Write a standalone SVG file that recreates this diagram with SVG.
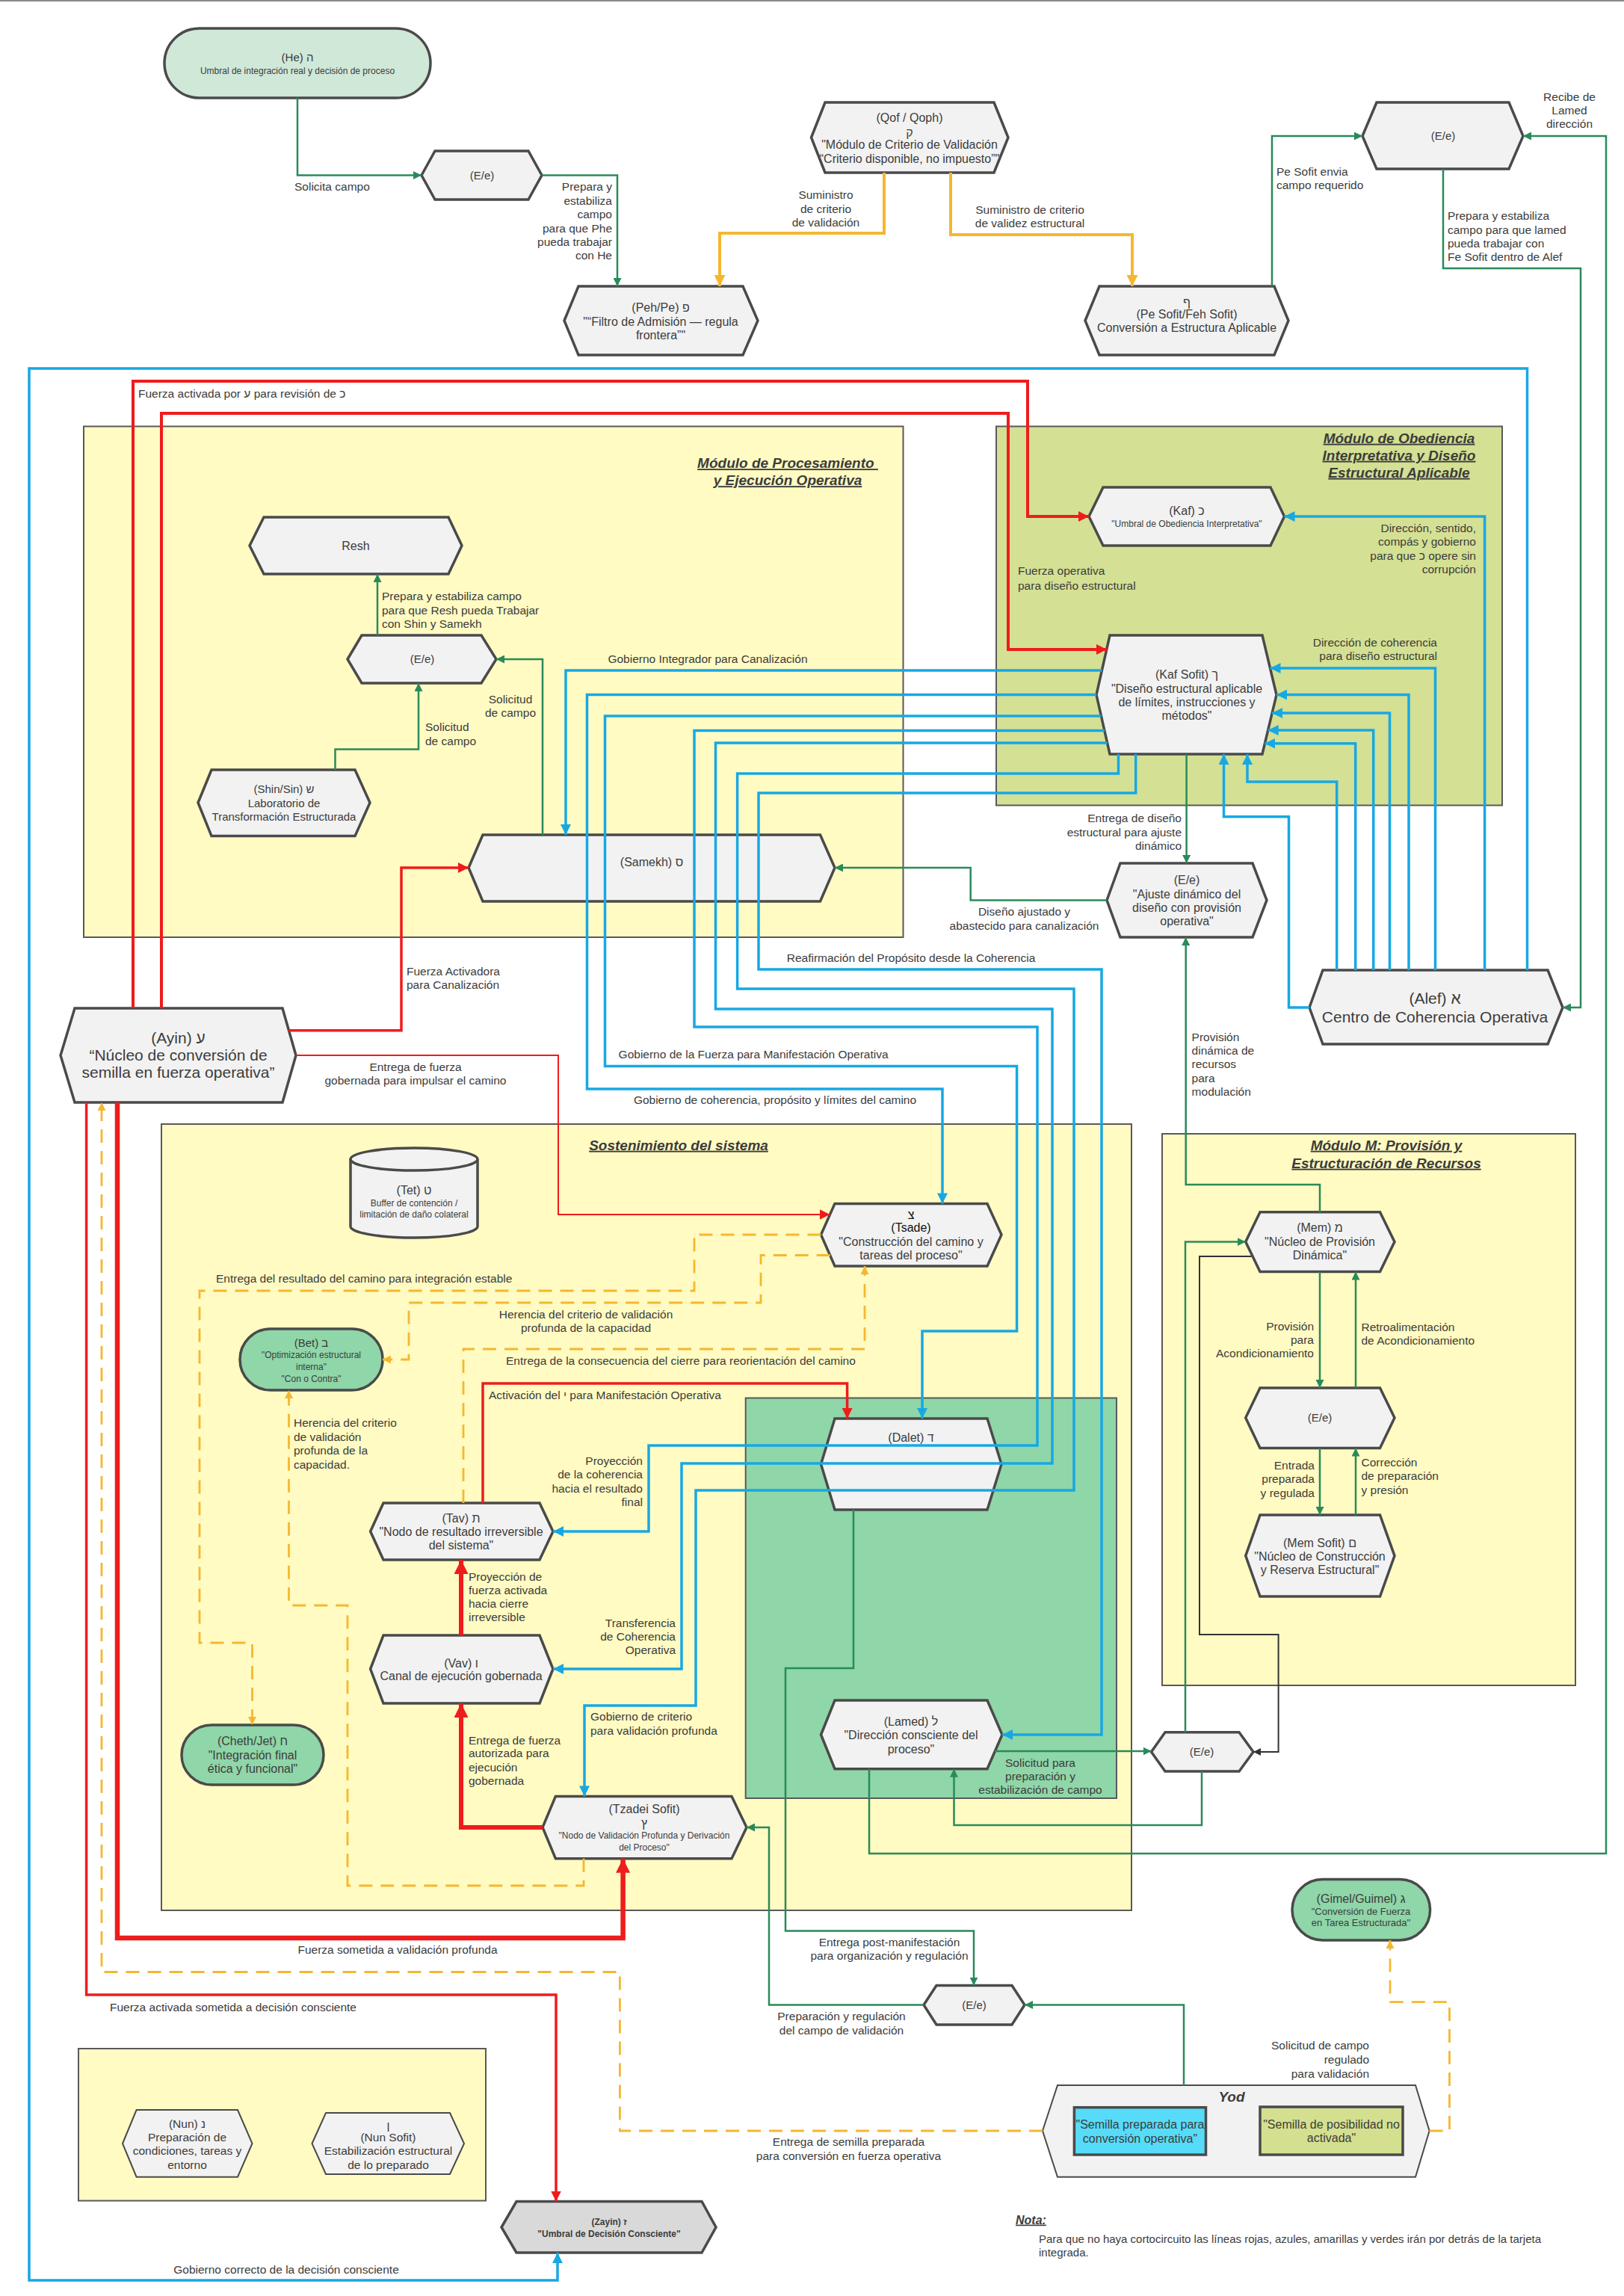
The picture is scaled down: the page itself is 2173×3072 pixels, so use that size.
<svg xmlns="http://www.w3.org/2000/svg" width="2173" height="3072" viewBox="0 0 2173 3072">
<defs>
<style>
.t{font-family:"Liberation Sans","DejaVu Sans",sans-serif;fill:#3c3c3c}
.l{font-size:15.5px}
.m{font-size:16px}
.f15{font-size:15px}
.s{font-size:12px}
.s13{font-size:13px}
.b{font-size:21px}
.tt{font-size:19px;font-weight:bold;font-style:italic;text-decoration:underline}
.c{text-anchor:middle}
.e{text-anchor:end}
.hex{fill:#f2f2f2;stroke:#4a4a4a;stroke-width:3.5}
.hexthin{fill:#f2f2f2;stroke:#4a4a4a;stroke-width:2}
.mod{stroke:#595959;stroke-width:2}
.yel{fill:#fffbc2}
.g{fill:none;stroke:#2a8a5a;stroke-width:2.5}
.k{fill:none;stroke:#333;stroke-width:2}
.bl{fill:none;stroke:#17a8e3;stroke-width:3.5}
.r{fill:none;stroke:#ee1c1c}
.o{fill:none;stroke:#f5b731;stroke-width:2.8;stroke-dasharray:18 11}
.os{fill:none;stroke:#f5b731;stroke-width:4}
</style>
<marker id="ag" viewBox="0 0 10 10" refX="10" refY="5" markerWidth="11" markerHeight="11" markerUnits="userSpaceOnUse" orient="auto"><path d="M0,0L10,5L0,10z" fill="#2a8a5a"/></marker>
<marker id="ab" viewBox="0 0 10 10" refX="10" refY="5" markerWidth="14" markerHeight="14" markerUnits="userSpaceOnUse" orient="auto"><path d="M0,0L10,5L0,10z" fill="#17a8e3"/></marker>
<marker id="ar" viewBox="0 0 10 10" refX="10" refY="5" markerWidth="14" markerHeight="14" markerUnits="userSpaceOnUse" orient="auto"><path d="M0,0L10,5L0,10z" fill="#ee1c1c"/></marker>
<marker id="arb" viewBox="0 0 10 10" refX="10" refY="5" markerWidth="19" markerHeight="19" markerUnits="userSpaceOnUse" orient="auto"><path d="M0,0L10,5L0,10z" fill="#ee1c1c"/></marker>
<marker id="ao" viewBox="0 0 10 10" refX="10" refY="5" markerWidth="11" markerHeight="11" markerUnits="userSpaceOnUse" orient="auto"><path d="M0,0L10,5L0,10z" fill="#f5b731"/></marker>
<marker id="aos" viewBox="0 0 10 10" refX="10" refY="5" markerWidth="15" markerHeight="15" markerUnits="userSpaceOnUse" orient="auto"><path d="M0,0L10,5L0,10z" fill="#f5b731"/></marker>
<marker id="ak" viewBox="0 0 10 10" refX="10" refY="5" markerWidth="10" markerHeight="10" markerUnits="userSpaceOnUse" orient="auto"><path d="M0,0L10,5L0,10z" fill="#333"/></marker>
</defs>
<rect width="2173" height="3072" fill="#ffffff"/>
<line x1="0" y1="1" x2="2173" y2="1" stroke="#8a8a8a" stroke-width="2"/>

<g id="modules">
<rect class="mod yel" x="112" y="570.5" width="1096.5" height="683.5"/>
<text class="t tt c"><tspan x="1054" y="626.2">Módulo de Procesamiento </tspan><tspan x="1054" y="649.2">y Ejecución Operativa</tspan></text>
<rect class="mod" fill="#d4e093" x="1333" y="570.5" width="677" height="507"/>
<text class="t tt c"><tspan x="1872" y="592.7">Módulo de Obediencia</tspan><tspan x="1872" y="615.7">Interpretativa y Diseño</tspan><tspan x="1872" y="638.7">Estructural Aplicable</tspan></text>
<rect class="mod yel" x="216" y="1504" width="1298" height="1052"/>
<text class="t tt c" x="908" y="1538.7">Sostenimiento del sistema</text>
<rect class="mod" fill="#8fd6a8" x="997.7" y="1870.5" width="496.3" height="535.5"/>
<rect class="mod yel" x="1555" y="1517" width="553" height="738"/>
<text class="t tt c"><tspan x="1855" y="1538.7">Módulo M: Provisión y</tspan><tspan x="1855" y="1562.7">Estructuración de Recursos</tspan></text>
<rect class="mod yel" x="105" y="2741" width="545" height="203.5"/>
</g>

<g id="nodes">
<g id="n-he"><rect x="220" y="38" width="356" height="93" rx="46.5" fill="#cfe8d8" stroke="#4a4a4a" stroke-width="3.5"/>
<text class="t c"><tspan class="f15" x="398" y="82.3">(He) ה</tspan><tspan class="s" x="398" y="98.7">Umbral de integración real y decisión de proceso</tspan></text></g>
<g id="n-ee1"><polygon class="hex" points="564,234.5 582,202 707,202 725,234.5 707,267 582,267"/><text class="t f15 c" x="645" y="239.8">(E/e)</text></g>
<g id="n-qof"><polygon class="hex" points="1085.5,184 1104,137 1330,137 1349,184 1330,231 1104,231"/>
<text class="t m c"><tspan x="1217" y="162.6">(Qof / Qoph)</tspan><tspan x="1217" y="182.6">ק</tspan><tspan x="1217" y="198.6">"Módulo de Criterio de Validación</tspan><tspan x="1217" y="217.6">“Criterio disponible, no impuesto”"</tspan></text></g>
<g id="n-peh"><polygon class="hex" points="755,429 774,383 994,383 1014,429 994,475 774,475"/>
<text class="t m c"><tspan x="884" y="416.6">(Peh/Pe) פ</tspan><tspan x="884" y="435.6">"“Filtro de Admisión — regula</tspan><tspan x="884" y="453.6">frontera”"</tspan></text></g>
<g id="n-pesofit"><polygon class="hex" points="1452,429 1471,383 1705,383 1724,429 1705,475 1471,475"/>
<text class="t m c"><tspan x="1588" y="409.6">ף</tspan><tspan x="1588" y="425.6">(Pe Sofit/Feh Sofit)</tspan><tspan x="1588" y="443.6">Conversión a Estructura Aplicable</tspan></text></g>
<g id="n-ee2"><polygon class="hex" points="1823,182 1842,137 2019,137 2038,182 2019,226 1842,226"/><text class="t f15 c" x="1931" y="187.3">(E/e)</text></g>
<g id="n-resh"><polygon class="hex" points="334,730 353,692 600,692 618,730 600,768 353,768"/><text class="t m c" x="476" y="735.6">Resh</text></g>
<g id="n-kaf"><polygon class="hex" points="1457,691 1476,652 1700,652 1718.5,691 1700,730 1476,730"/>
<text class="t c"><tspan class="m" x="1588" y="688.6">(Kaf) כ</tspan><tspan class="s" x="1588" y="705.2">"Umbral de Obediencia Interpretativa"</tspan></text></g>
<g id="n-ee3"><polygon class="hex" points="465,882 484,850 644,850 664,882 644,914 484,914"/><text class="t f15 c" x="565" y="887.3">(E/e)</text></g>
<g id="n-shin"><polygon class="hex" points="265,1074 283,1030 475,1030 495,1074 475,1118.6 283,1118.6"/>
<text class="t f15 c"><tspan x="380" y="1061.3">(Shin/Sin) ש</tspan><tspan x="380" y="1079.9">Laboratorio de</tspan><tspan x="380" y="1098">Transformación Estructurada</tspan></text></g>
<g id="n-samekh"><polygon class="hex" points="627,1161 646,1117 1097.5,1117 1117,1161 1097.5,1206 646,1206"/><text class="t m c" x="872" y="1158.6">(Samekh) ס</text></g>
<g id="n-kafsofit"><polygon class="hex" points="1467,929.6 1485,850 1689,850 1708,929.6 1689,1009 1485,1009"/>
<text class="t m c"><tspan x="1588" y="908.3">(Kaf Sofit) ך</tspan><tspan x="1588" y="926.6">"Diseño estructural aplicable</tspan><tspan x="1588" y="944.6">de límites, instrucciones y</tspan><tspan x="1588" y="963.1">métodos"</tspan></text></g>
<g id="n-ee4"><polygon class="hex" points="1481,1204.5 1499,1155 1676,1155 1695,1204.5 1676,1254 1499,1254"/>
<text class="t m c"><tspan x="1588" y="1182.6">(E/e)</tspan><tspan x="1588" y="1201.6">"Ajuste dinámico del</tspan><tspan x="1588" y="1219.6">diseño con provisión</tspan><tspan x="1588" y="1238.3">operativa"</tspan></text></g>
<g id="n-ayin"><polygon class="hex" points="81,1412 100,1349 378,1349 396,1412 378,1475 100,1475"/>
<text class="t b c"><tspan x="238.5" y="1395.9">(Ayin) ע</tspan><tspan x="238.5" y="1419.4">“Núcleo de conversión de</tspan><tspan x="238.5" y="1442.4">semilla en fuerza operativa”</tspan></text></g>
<g id="n-alef"><polygon class="hex" points="1752,1348 1770,1298 2071,1298 2091,1348 2071,1397 1770,1397"/>
<text class="t b c"><tspan x="1920" y="1343.4">(Alef) א</tspan><tspan x="1920" y="1367.9">Centro de Coherencia Operativa</tspan></text></g>
<g id="n-tet"><path d="M469,1551 A85,15 0 0 1 639,1551 V1641 A85,15 0 0 1 469,1641 Z" fill="#f2f2f2" stroke="#4a4a4a" stroke-width="3.5"/><path d="M469,1551 A85,15 0 0 0 639,1551" fill="none" stroke="#4a4a4a" stroke-width="3.5"/>
<text class="t c"><tspan class="m" x="554" y="1597.6">(Tet) ט</tspan><tspan class="s" x="554" y="1613.7">Buffer de contención /</tspan><tspan class="s" x="554" y="1629.2">limitación de daño colateral</tspan></text></g>
<g id="n-tsade"><polygon class="hex" points="1098.5,1652 1117,1610.4 1321,1610.4 1340,1652 1321,1694 1117,1694"/>
<text class="t m c"><tspan x="1219" y="1631.2" fill="#111">צ</tspan><tspan x="1219" y="1648.4" fill="#111">(Tsade)</tspan><tspan x="1219" y="1666.6">"Construcción del camino y</tspan><tspan x="1219" y="1685.1">tareas del proceso"</tspan></text></g>
<g id="n-mem"><polygon class="hex" points="1666.7,1661.6 1686,1621.7 1846.5,1621.7 1866,1661.6 1846.5,1701.5 1686,1701.5"/>
<text class="t m c"><tspan x="1766" y="1648.4">(Mem) מ</tspan><tspan x="1766" y="1666.6">"Núcleo de Provisión</tspan><tspan x="1766" y="1685.2">Dinámica"</tspan></text></g>
<g id="n-bet"><rect x="321" y="1778" width="191" height="82" rx="41" fill="#8fd6a8" stroke="#4a4a4a" stroke-width="3.5"/>
<text class="t c"><tspan class="f15" x="416.5" y="1801.8">(Bet) ב</tspan><tspan class="s" x="416.5" y="1817.2">"Optimización estructural</tspan><tspan class="s" x="416.5" y="1833.2">interna"</tspan><tspan class="s" x="416.5" y="1848.7">"Con o Contra"</tspan></text></g>
<g id="n-ee7"><polygon class="hex" points="1666.7,1897 1686,1857 1846.5,1857 1866,1897 1846.5,1937.6 1686,1937.6"/><text class="t f15 c" x="1766" y="1902.3">(E/e)</text></g>
<g id="n-dalet"><polygon class="hex" points="1098.5,1959 1117,1898 1321,1898 1340,1959 1321,2020 1117,2020"/><text class="t m c" x="1219" y="1928.6">(Dalet) ד</text></g>
<g id="n-tav"><polygon class="hex" points="495.6,2049 513,2011 722,2011 740,2049 722,2087 513,2087"/>
<text class="t m c"><tspan x="617" y="2036.6">(Tav) ת</tspan><tspan x="617" y="2054.6">"Nodo de resultado irreversible</tspan><tspan x="617" y="2072.6">del sistema"</tspan></text></g>
<g id="n-memsofit"><polygon class="hex" points="1666.7,2081.6 1686,2027 1846.5,2027 1866,2081.6 1846.5,2136 1686,2136"/>
<text class="t m c"><tspan x="1766" y="2069.6">(Mem Sofit) ם</tspan><tspan x="1766" y="2087.6">"Núcleo de Construcción</tspan><tspan x="1766" y="2105.6">y Reserva Estructural"</tspan></text></g>
<g id="n-vav"><polygon class="hex" points="495.6,2233 513,2188 722,2188 740,2233 722,2279 513,2279"/>
<text class="t m c"><tspan x="617" y="2230.6">(Vav) ו</tspan><tspan x="617" y="2247.6">Canal de ejecución gobernada</tspan></text></g>
<g id="n-lamed"><polygon class="hex" points="1098.5,2321 1117,2275 1321,2275 1341,2321 1321,2366.7 1117,2366.7"/>
<text class="t m c"><tspan x="1219" y="2308.6">(Lamed) ל</tspan><tspan x="1219" y="2326.6">"Dirección consciente del</tspan><tspan x="1219" y="2345.6">proceso"</tspan></text></g>
<g id="n-ee6"><polygon class="hex" points="1540.5,2344 1559,2317.7 1658,2317.7 1677,2344 1658,2370 1559,2370"/><text class="t f15 c" x="1608" y="2349.3">(E/e)</text></g>
<g id="n-cheth"><rect x="243" y="2308" width="190" height="80" rx="40" fill="#8fd6a8" stroke="#4a4a4a" stroke-width="3.5"/>
<text class="t m c"><tspan x="338" y="2335.1">(Cheth/Jet) ח</tspan><tspan x="338" y="2353.6">"Integración final</tspan><tspan x="338" y="2371.6">ética y funcional"</tspan></text></g>
<g id="n-tzadeisofit"><polygon class="hex" points="726,2445 743.4,2403.4 979,2403.4 999,2445 979,2486.7 743.4,2486.7"/>
<text class="t c"><tspan class="m" x="862" y="2426.2">(Tzadei Sofit)</tspan><tspan class="m" x="862" y="2445.2">ץ</tspan><tspan class="s" x="862" y="2460.2">"Nodo de Validación Profunda y Derivación</tspan><tspan class="s" x="862" y="2476.2">del Proceso"</tspan></text></g>
<g id="n-gimel"><rect x="1729" y="2514.6" width="184.6" height="81.4" rx="40.7" fill="#8fd6a8" stroke="#4a4a4a" stroke-width="3.5"/>
<text class="t c"><tspan class="m" x="1821" y="2545.6">(Gimel/Guimel) ג</tspan><tspan class="s13" x="1821" y="2561.6">"Conversión de Fuerza</tspan><tspan class="s13" x="1821" y="2576.6">en Tarea Estructurada"</tspan></text></g>
<g id="n-ee5"><polygon class="hex" points="1236,2682.5 1253,2656.6 1354,2656.6 1371,2682.5 1354,2709 1253,2709"/><text class="t f15 c" x="1303.5" y="2687.8">(E/e)</text></g>
<g id="n-yod"><polygon class="hexthin" points="1395,2851 1415,2790 1894,2790 1912.6,2851 1894,2912.7 1415,2912.7"/>
<text class="t tt c" x="1648" y="2811.7" style="text-decoration:none">Yod</text>
<rect x="1437.4" y="2819.7" width="176.1" height="63.3" fill="#56dcf9" stroke="#4a4a4a" stroke-width="3.5"/>
<text class="t m c"><tspan x="1525.5" y="2848.3">"Semilla preparada para</tspan><tspan x="1525.5" y="2866.6">conversión operativa"</tspan></text>
<rect x="1686" y="2819" width="191" height="64" fill="#d4e08f" stroke="#4a4a4a" stroke-width="3.5"/>
<text class="t m c"><tspan x="1781.5" y="2847.6">"Semilla de posibilidad no</tspan><tspan x="1781.5" y="2865.6">activada"</tspan></text></g>
<g id="n-nun"><polygon class="hexthin" points="164,2868 182.6,2823 318,2823 337.5,2868 318,2912.7 182.6,2912.7"/>
<text class="t l c"><tspan x="250.5" y="2846.6">(Nun) נ</tspan><tspan x="250.5" y="2864.6">Preparación de</tspan><tspan x="250.5" y="2882.6">condiciones, tareas y</tspan><tspan x="250.5" y="2901.6">entorno</tspan></text></g>
<g id="n-nunsofit"><polygon class="hexthin" points="417.5,2868 436,2827 602,2827 621,2868 602,2909 436,2909"/>
<text class="t l c"><tspan x="519.5" y="2849.3">ן</tspan><tspan x="519.5" y="2864.6">(Nun Sofit)</tspan><tspan x="519.5" y="2882.6">Estabilización estructural</tspan><tspan x="519.5" y="2901.6">de lo preparado</tspan></text></g>
<g id="n-zayin"><polygon points="671,2980 691,2945.5 939,2945.5 958,2980 939,3014 691,3014" fill="#d9d9d9" stroke="#4a4a4a" stroke-width="3.5"/>
<text class="t s c" font-weight="bold"><tspan x="815" y="2977.2">(Zayin) ז</tspan><tspan x="815" y="2992.8">"Umbral de Decisión Consciente"</tspan></text></g>
</g>

<g id="connectors">
<!-- green -->
<path class="g" stroke-width="3" d="M398,131 V234.5 H564" marker-end="url(#ag)"/>
<path class="g" stroke-width="3" d="M725,234.5 H826 V383" marker-end="url(#ag)"/>
<path class="g" d="M1702,383 V182 H1823" marker-end="url(#ag)"/>
<path class="g" d="M1931,226 V359 H2115 V1348 H2091" marker-end="url(#ag)"/>
<path class="g" d="M1163,2366.7 V2480 H2149 V182 H2038" marker-end="url(#ag)"/>
<path class="g" d="M505,850 V768" marker-end="url(#ag)"/>
<path class="g" d="M726,1117 V882 H664" marker-end="url(#ag)"/>
<path class="g" d="M448.5,1030 V1002.6 H560 V914" marker-end="url(#ag)"/>
<path class="g" d="M1587.6,1009 V1155" marker-end="url(#ag)"/>
<path class="g" d="M1481,1204.5 H1298.7 V1161 H1117" marker-end="url(#ag)"/>
<path class="g" d="M1766,1621.7 V1585 H1586.7 V1254" marker-end="url(#ag)"/>
<path class="g" d="M1766,1701.5 V1857" marker-end="url(#ag)"/>
<path class="g" d="M1814,1857 V1701.5" marker-end="url(#ag)"/>
<path class="g" d="M1766,1937.6 V2027" marker-end="url(#ag)"/>
<path class="g" d="M1814,2027 V1937.6" marker-end="url(#ag)"/>
<path class="g" d="M1586,2317.7 V1661.6 H1666.7" marker-end="url(#ag)"/>
<path class="g" d="M1331,2343 H1540.5" marker-end="url(#ag)"/>
<path class="g" d="M1608,2370 V2442 H1276.5 V2366.7" marker-end="url(#ag)"/>
<path class="g" d="M1142,2020 V2232 H1051 V2583.6 H1303 V2656.6" marker-end="url(#ag)"/>
<path class="g" d="M1236,2682.5 H1029 V2445 H999" marker-end="url(#ag)"/>
<path class="g" d="M1584,2790 V2682.5 H1371" marker-end="url(#ag)"/>
<path class="k" d="M1674.5,1681 H1605 V2187 H1710.6 V2344 H1677" marker-end="url(#ak)"/>
<!-- orange solid -->
<path class="os" d="M1183,231 V312 H963 V383" marker-end="url(#aos)"/>
<path class="os" d="M1272,231 V314 H1515 V383" marker-end="url(#aos)"/>
<!-- orange dashed -->
<path class="o" d="M1098.5,1652 H929 V1727 H267 V2198 H337.5 V2308" marker-end="url(#ao)"/>
<path class="o" d="M1110.7,1679.5 H1018 V1743 H547 V1819 H512" marker-end="url(#ao)"/>
<path class="o" d="M620,2011 V1805 H1157 V1694" marker-end="url(#ao)"/>
<path class="o" d="M781,2486.7 V2523 H465 V2148 H386.5 V1860" marker-end="url(#ao)"/>
<path class="o" stroke-width="3" d="M1395,2851 H829.4 V2638.5 H136 V1475" marker-end="url(#ao)"/>
<path class="o" stroke-width="3" d="M1912.6,2851 H1939.5 V2678.6 H1860 V2596" marker-end="url(#ao)"/>
<!-- blue -->
<path class="bl" stroke-width="2" d="M1474.4,897 H757 V1117" marker-end="url(#ab)"/>
<path class="bl" d="M1467,929.6 H785.5 V1457 H1261 V1610.4" marker-end="url(#ab)"/>
<path class="bl" d="M1473.4,958 H809.5 V1426.6 H1360.6 V1781 H1234 V1898" marker-end="url(#ab)"/>
<path class="bl" d="M1477.9,977.6 H929 V1374 H1388 V1934 H868 V2049 H740" marker-end="url(#ab)"/>
<path class="bl" d="M1481.6,994 H957.5 V1350 H1408 V1958 H912 V2233 H740" marker-end="url(#ab)"/>
<path class="bl" d="M1496.5,1009 V1035 H986.6 V1323 H1437 V1994 H931 V2282 H782 V2403.4" marker-end="url(#ab)"/>
<path class="bl" d="M1519.7,1009 V1061 H1015 V1297 H1474 V2321 H1341" marker-end="url(#ab)"/>
<path class="bl" d="M1920.5,1298 V894 H1699.5" marker-end="url(#ab)"/>
<path class="bl" d="M1885,1298 V929.6 H1708" marker-end="url(#ab)"/>
<path class="bl" d="M1859.5,1298 V954 H1702" marker-end="url(#ab)"/>
<path class="bl" d="M1837.7,1298 V977 H1696.7" marker-end="url(#ab)"/>
<path class="bl" d="M1813.7,1298 V994.7 H1692.4" marker-end="url(#ab)"/>
<path class="bl" d="M1788.7,1298 V1046 H1669 V1009" marker-end="url(#ab)"/>
<path class="bl" d="M1752,1348 H1724.5 V1092.7 H1637.5 V1009" marker-end="url(#ab)"/>
<path class="bl" d="M1986.6,1298 V691 H1718.5" marker-end="url(#ab)"/>
<path class="bl" d="M2043.5,1298 V493 H39 V3051 H746 V3014" marker-end="url(#ab)"/>
<!-- red -->
<path class="r" stroke-width="4" d="M178,1349 V510 H1375 V691 H1457" marker-end="url(#ar)"/>
<path class="r" stroke-width="4" d="M216,1349 V553 H1349 V869 H1481" marker-end="url(#ar)"/>
<path class="r" stroke-width="3.5" d="M386,1378.7 H537 V1161 H627" marker-end="url(#ar)"/>
<path class="r" stroke-width="2" d="M396,1412 H747 V1625 H1110.5" marker-end="url(#ar)"/>
<path class="r" stroke-width="6.5" d="M157,1475 V2593 H833.6 V2486.7" marker-end="url(#arb)"/>
<path class="r" stroke-width="3.5" d="M115.6,1475 V2669 H744 V2945.5" marker-end="url(#ar)"/>
<path class="r" stroke-width="6" d="M726,2445 H617 V2279" marker-end="url(#arb)"/>
<path class="r" stroke-width="6" d="M617,2188 V2087" marker-end="url(#arb)"/>
<path class="r" stroke-width="3.5" d="M646,2011 V1851 H1133.6 V1898" marker-end="url(#ar)"/>

<g id="connector-labels">
<text class="t l" x="394" y="255.4">Solicita campo</text>
<text class="t l e"><tspan x="819" y="255.4">Prepara y</tspan><tspan x="819" y="274.4">estabiliza</tspan><tspan x="819" y="292.4">campo</tspan><tspan x="819" y="311.4">para que Phe</tspan><tspan x="819" y="329.4">pueda trabajar</tspan><tspan x="819" y="347.4">con He</tspan></text>
<text class="t l c"><tspan x="1105" y="266.4">Suministro</tspan><tspan x="1105" y="285.4">de criterio</tspan><tspan x="1105" y="303.4">de validación</tspan></text>
<text class="t l c"><tspan x="1378" y="286.4">Suministro de criterio</tspan><tspan x="1378" y="304.4">de validez estructural</tspan></text>
<text class="t l"><tspan x="1708" y="235.4">Pe Sofit envia</tspan><tspan x="1708" y="253.4">campo requerido</tspan></text>
<text class="t l c"><tspan x="2100" y="135.4">Recibe de</tspan><tspan x="2100" y="153.4">Lamed</tspan><tspan x="2100" y="171.4">dirección</tspan></text>
<text class="t l"><tspan x="1937" y="294.4">Prepara y estabiliza</tspan><tspan x="1937" y="312.9">campo para que lamed</tspan><tspan x="1937" y="331">pueda trabajar con</tspan><tspan x="1937" y="349.4">Fe Sofit dentro de Alef</tspan></text>
<text class="t l" x="185" y="531.9">Fuerza activada por ע para revisión de כ</text>
<text class="t l e"><tspan x="1975" y="712.4">Dirección, sentido,</tspan><tspan x="1975" y="730.4">compás y gobierno</tspan><tspan x="1975" y="749.4">para que כ opere sin</tspan><tspan x="1975" y="767.4">corrupción</tspan></text>
<text class="t l"><tspan x="1362" y="769.4">Fuerza operativa</tspan><tspan x="1362" y="789.4">para diseño estructural</tspan></text>
<text class="t l"><tspan x="511" y="803.4">Prepara y estabiliza campo</tspan><tspan x="511" y="822.4">para que Resh pueda Trabajar</tspan><tspan x="511" y="840.4">con Shin y Samekh</tspan></text>
<text class="t l c"><tspan x="683" y="941.4">Solicitud</tspan><tspan x="683" y="959.4">de campo</tspan></text>
<text class="t l"><tspan x="569" y="978.4">Solicitud</tspan><tspan x="569" y="997.4">de campo</tspan></text>
<text class="t l c" x="947" y="887">Gobierno Integrador para Canalización</text>
<text class="t l e"><tspan x="1923" y="865">Dirección de coherencia</tspan><tspan x="1923" y="883.1">para diseño estructural</tspan></text>
<text class="t l e"><tspan x="1581" y="1100.4">Entrega de diseño</tspan><tspan x="1581" y="1119.1">estructural para ajuste</tspan><tspan x="1581" y="1137">dinámico</tspan></text>
<text class="t l c"><tspan x="1370.5" y="1225.4">Diseño ajustado y</tspan><tspan x="1370.5" y="1244">abastecido para canalización</tspan></text>
<text class="t l"><tspan x="544" y="1305.4">Fuerza Activadora</tspan><tspan x="544" y="1323.4">para Canalización</tspan></text>
<text class="t l c" x="1219" y="1287.4">Reafirmación del Propósito desde la Coherencia</text>
<text class="t l"><tspan x="1594.6" y="1392.9">Provisión</tspan><tspan x="1594.6" y="1411.4">dinámica de</tspan><tspan x="1594.6" y="1429.4">recursos</tspan><tspan x="1594.6" y="1448.4">para</tspan><tspan x="1594.6" y="1466.4">modulación</tspan></text>
<text class="t l" x="827.6" y="1416.4">Gobierno de la Fuerza para Manifestación Operativa</text>
<text class="t l c"><tspan x="556" y="1433.4">Entrega de fuerza</tspan><tspan x="556" y="1451.4">gobernada para impulsar el camino</tspan></text>
<text class="t l c" x="1037" y="1477.4">Gobierno de coherencia, propósito y límites del camino</text>
<text class="t l" x="289" y="1716.4">Entrega del resultado del camino para integración estable</text>
<text class="t l c"><tspan x="784" y="1764.4">Herencia del criterio de validación</tspan><tspan x="784" y="1782.4">profunda de la capacidad</tspan></text>
<text class="t l e"><tspan x="1758" y="1779.9">Provisión</tspan><tspan x="1758" y="1798">para</tspan><tspan x="1758" y="1816.4">Acondicionamiento</tspan></text>
<text class="t l"><tspan x="1821.5" y="1781.4">Retroalimentación</tspan><tspan x="1821.5" y="1799.4">de Acondicionamiento</tspan></text>
<text class="t l" x="677" y="1826.4">Entrega de la consecuencia del cierre para reorientación del camino</text>
<text class="t l" x="654" y="1872">Activación del י para Manifestación Operativa</text>
<text class="t l"><tspan x="393" y="1909.4">Herencia del criterio</tspan><tspan x="393" y="1928.4">de validación</tspan><tspan x="393" y="1946.4">profunda de la</tspan><tspan x="393" y="1964.9">capacidad.</tspan></text>
<text class="t l e"><tspan x="860" y="1960.4">Proyección</tspan><tspan x="860" y="1978.4">de la coherencia</tspan><tspan x="860" y="1997.4">hacia el resultado</tspan><tspan x="860" y="2015.4">final</tspan></text>
<text class="t l e"><tspan x="1759" y="1966">Entrada</tspan><tspan x="1759" y="1984.4">preparada</tspan><tspan x="1759" y="2003">y regulada</tspan></text>
<text class="t l"><tspan x="1821.5" y="1962.4">Corrección</tspan><tspan x="1821.5" y="1980.4">de preparación</tspan><tspan x="1821.5" y="1999.4">y presión</tspan></text>
<text class="t l"><tspan x="627" y="2114.9">Proyección de</tspan><tspan x="627" y="2133.4">fuerza activada</tspan><tspan x="627" y="2151.4">hacia cierre</tspan><tspan x="627" y="2169.4">irreversible</tspan></text>
<text class="t l e"><tspan x="904" y="2177.4">Transferencia</tspan><tspan x="904" y="2195.4">de Coherencia</tspan><tspan x="904" y="2213.4">Operativa</tspan></text>
<text class="t l"><tspan x="790" y="2301.9">Gobierno de criterio</tspan><tspan x="790" y="2321.4">para validación profunda</tspan></text>
<text class="t l c"><tspan x="1392" y="2364.4">Solicitud para</tspan><tspan x="1392" y="2382.4">preparación y</tspan><tspan x="1392" y="2400.4">estabilización  de campo</tspan></text>
<text class="t l"><tspan x="627" y="2333.9">Entrega de fuerza</tspan><tspan x="627" y="2351.4">autorizada para</tspan><tspan x="627" y="2370.4">ejecución</tspan><tspan x="627" y="2388.4">gobernada</tspan></text>
<text class="t l c"><tspan x="1190" y="2604.4">Entrega post-manifestación</tspan><tspan x="1190" y="2622.4">para organización y regulación</tspan></text>
<text class="t l c" x="532" y="2614">Fuerza sometida a validación profunda</text>
<text class="t l" x="147" y="2690.9">Fuerza activada sometida a decisión consciente</text>
<text class="t l c"><tspan x="1126" y="2703.4">Preparación y regulación</tspan><tspan x="1126" y="2722.4">del campo de validación</tspan></text>
<text class="t l e"><tspan x="1832" y="2742.4">Solicitud de campo</tspan><tspan x="1832" y="2761">regulado</tspan><tspan x="1832" y="2780">para validación</tspan></text>
<text class="t l c"><tspan x="1135.5" y="2871.4">Entrega de semilla preparada</tspan><tspan x="1135.5" y="2890.4">para conversión en fuerza operativa</tspan></text>
<text class="t l c" x="383" y="3042.4">Gobierno correcto de la decisión consciente</text>
</g>
</g>

<g id="note">
<text class="t m" x="1359" y="2975.6" font-weight="bold" font-style="italic" text-decoration="underline">Nota:</text>
<text class="t f15"><tspan x="1390" y="3001.4">Para que no haya cortocircuito las líneas rojas, azules, amarillas y verdes irán por detrás de la tarjeta</tspan><tspan x="1390" y="3019.4">integrada.</tspan></text>
</g>
</svg>
